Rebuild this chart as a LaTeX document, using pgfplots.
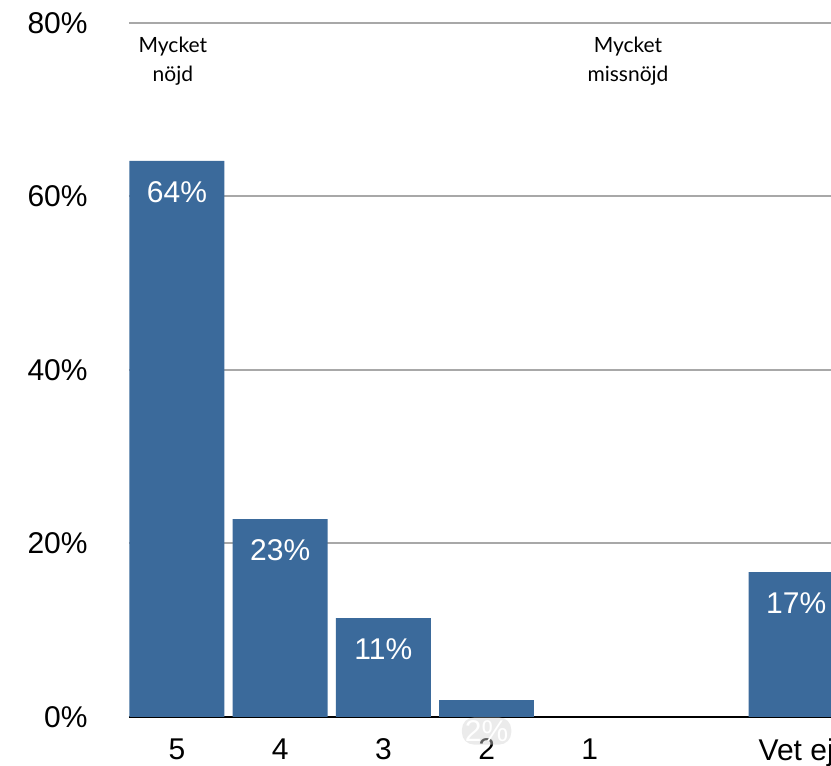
\documentclass[border=0pt]{standalone}
\usepackage{pgfplots}
\pgfplotsset{compat=1.18}
\usepackage{fontspec}
\setmainfont{Liberation Sans}
\newfontfamily\notefont{Lato}
\definecolor{barblue}{RGB}{59,106,155}
\definecolor{gridgray}{RGB}{168,168,168}
\begin{document}
\begin{tikzpicture}
\useasboundingbox (-64.5pt,-24.5pt) rectangle (351pt,358.5pt);
\begin{axis}[
  scale only axis,
  width=351pt, height=347pt,
  xmin=-0.465, xmax=6.337,
  ymin=0, ymax=80,
  clip mode=individual,
  axis x line*=bottom,
  axis y line*=left,
  y axis line style={draw=none},
  x axis line style={black, line width=1.3pt},
  /pgf/number format/assume math mode=true,
  ymajorgrids,
  grid style={gridgray, line width=1pt},
  ytick={0,20,40,60,80},
  yticklabels={0\%,20\%,40\%,60\%,80\%},
  yticklabel style={anchor=east, inner sep=0pt, xshift=-20.5pt, font=\fontsize{15}{18}\selectfont},
  xtick={0,1,2,3,4,6},
  xticklabels={5,4,3,2,1,Vet ej},
  xticklabel style={anchor=north, inner sep=0pt, yshift=-10.5pt, font=\fontsize{15}{18}\selectfont},
  major tick length=0pt,
  tick style={draw=none},
  ybar, bar width=47.5pt, bar shift=0pt,
  point meta=explicit,
  nodes near coords={\pgfmathprintnumber[fixed,precision=0]{\pgfplotspointmeta}\%},
  every node near coord/.append style={anchor=center, yshift=-15.5pt, text=white, font=\fontsize{15}{18}\selectfont},
]
\addplot[fill=barblue, draw=none] coordinates {(0,64.1) [64] (1,22.8) [23] (2,11.4) [11] (6,16.7) [17]};
\addplot[fill=barblue, draw=none,
  every node near coord/.append style={fill=gray!35, fill opacity=0.45, text opacity=1, rounded corners=6pt, inner sep=1.5pt}]
  coordinates {(3,1.96) [2]};
\node[font=\notefont\fontsize{10.5}{14.5}\selectfont, align=center] at (axis cs:-0.04,75.6) {Mycket\\nöjd};
\node[font=\notefont\fontsize{10.5}{14.5}\selectfont, align=center] at (axis cs:4.37,75.6) {Mycket\\missnöjd};
\end{axis}
\end{tikzpicture}
\end{document}
